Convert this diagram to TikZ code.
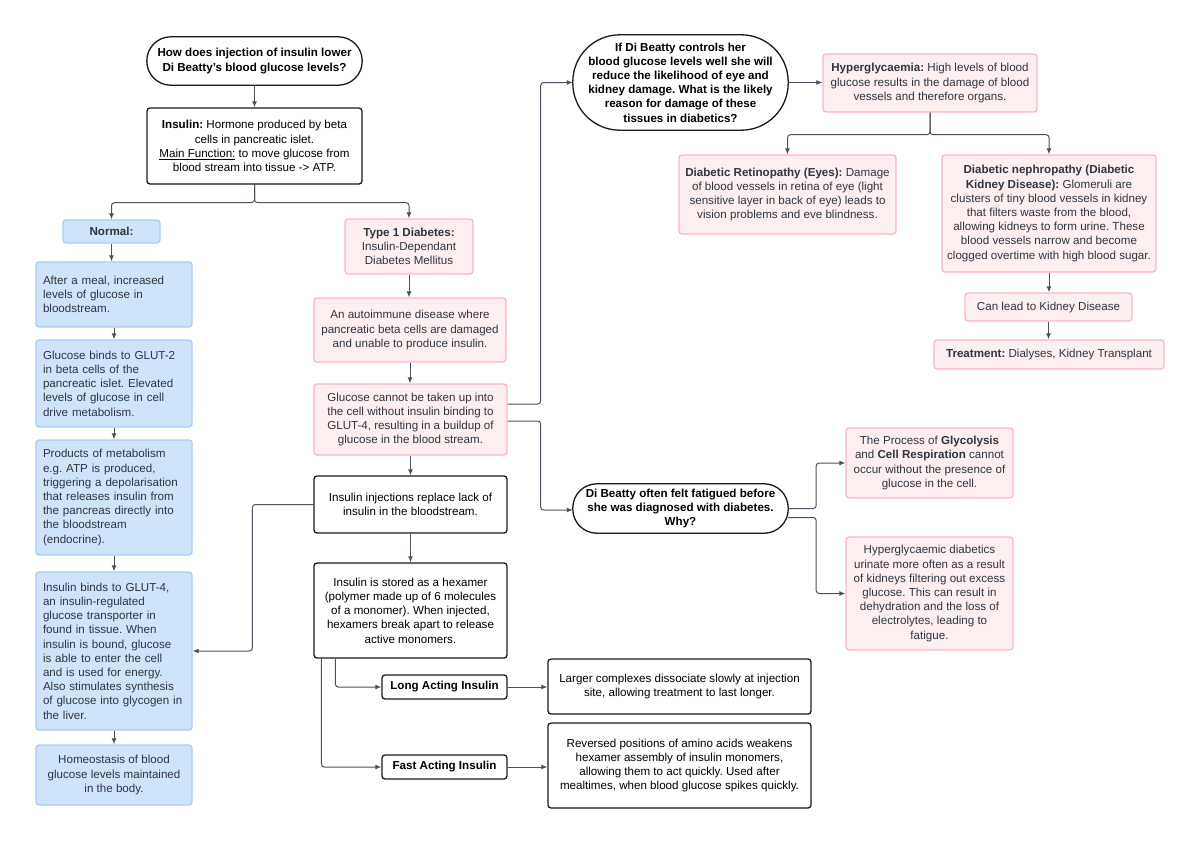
\documentclass[tikz,border=0pt]{standalone}
\usepackage{fontspec}
\setmainfont{Liberation Sans}
\usetikzlibrary{arrows.meta}
\definecolor{pinkf}{HTML}{FDEEF0}
\definecolor{pinkb}{HTML}{F7B5CC}
\definecolor{bluef}{HTML}{CFE3FB}
\definecolor{blueb}{HTML}{A8CCF5}
\definecolor{linec}{HTML}{4A5260}
\definecolor{txt}{HTML}{2F3541}
\frenchspacing
\begin{document}
\begin{tikzpicture}[x=1pt,y=-1pt,
  base/.style={inner sep=2pt, align=center, font=\fontsize{11.6}{14.2}\selectfont, line width=1.3pt, rounded corners=3pt},
  blackbox/.style={base, draw=black!90, fill=white, text=black},
  pinkbox/.style={base, draw=pinkb, fill=pinkf, text=txt},
  bluebox/.style={base, draw=blueb, fill=bluef, text=txt},
  blueleft/.style={bluebox, align=left, text width=142pt, inner xsep=7pt},
  qnode/.style={inner sep=0pt, align=center, font=\fontsize{11.6}{14.2}\selectfont\bfseries, text=black},
  stad/.style={draw=black!90, line width=1.3pt, fill=white},
  arr/.style={draw=linec, line width=1pt, rounded corners=3pt, -{Latex[length=6pt,width=5pt]}}
]
\useasboundingbox (0,0) rectangle (1200,844);

% question placeholders (outline drawn below)
\node[qnode, minimum width=215pt, minimum height=48pt] (q1) at (254.5,61) {};
\node[qnode, minimum width=215pt, minimum height=95pt] (q2) at (680.5,82.5) {};
\node[qnode, minimum width=215pt, minimum height=49pt] (q3) at (680.5,508.5) {};
\draw[stad, rounded corners=24pt] (q1.south west) rectangle (q1.north east);
\draw[stad, rounded corners=47pt] (q2.south west) rectangle (q2.north east);
\draw[stad, rounded corners=24pt] (q3.south west) rectangle (q3.north east);
\node[qnode] (q1t) at (q1.center) {How does injection of insulin lower\\Di Beatty's blood glucose levels?};
\node[qnode] (q2t) at (q2.center) {If Di Beatty controls her\\blood glucose levels well she will\\reduce the likelihood of eye and\\kidney damage. What is the likely\\reason for damage of these\\tissues in diabetics?};
\node[qnode] (q3t) at (q3.center) {Di Beatty often felt fatigued before\\she was diagnosed with diabetes.\\Why?};

\node[blackbox, minimum width=215pt, minimum height=76pt] (ins) at (254.5,146) {\textbf{Insulin:} Hormone produced by beta\\cells in pancreatic islet.\\\underline{Main Function:} to move glucose from\\blood stream into tissue -> ATP.};

% Left column (normal)
\node[bluebox, minimum width=97pt, minimum height=23pt] (nor) at (111.5,231.5) {\textbf{Normal:}};
\node[blueleft, minimum height=65pt] (b1) at (114,294.5) {After a meal, increased\\levels of glucose in\\bloodstream.};
\node[blueleft, minimum height=87pt] (b2) at (114,383.5) {Glucose binds to GLUT-2\\in beta cells of the\\pancreatic islet. Elevated\\levels of glucose in cell\\drive metabolism.};
\node[blueleft, minimum height=115pt] (b3) at (114,497.5) {Products of metabolism\\e.g. ATP is produced,\\triggering a depolarisation\\that releases insulin from\\the pancreas directly into\\the bloodstream\\(endocrine).};
\node[blueleft, minimum height=158pt] (b4) at (114,651) {Insulin binds to GLUT-4,\\an insulin-regulated\\glucose transporter in\\found in tissue. When\\insulin is bound, glucose\\is able to enter the cell\\and is used for energy.\\Also stimulates synthesis\\of glucose into glycogen in\\the liver.};
\node[bluebox, minimum width=156pt, minimum height=60pt] (b5) at (114,775) {Homeostasis of blood\\glucose levels maintained\\in the body.};

% Middle column
\node[pinkbox, minimum width=128pt, minimum height=55pt] (t1) at (409,246.5) {\textbf{Type 1 Diabetes:}\\Insulin-Dependant\\Diabetes Mellitus};
\node[pinkbox, minimum width=192pt, minimum height=64pt] (auto) at (410,330) {An autoimmune disease where\\pancreatic beta cells are damaged\\and unable to produce insulin.};
\node[pinkbox, minimum width=193pt, minimum height=71pt] (gc) at (410.5,419.5) {Glucose cannot be taken up into\\the cell without insulin binding to\\GLUT-4, resulting in a buildup of\\glucose in the blood stream.};
\node[blackbox, minimum width=193pt, minimum height=57pt] (inj) at (410.5,504.5) {Insulin injections replace lack of\\insulin in the bloodstream.};
\node[blackbox, minimum width=193pt, minimum height=95pt] (hex) at (410.5,610.5) {Insulin is stored as a hexamer\\(polymer made up of 6 molecules\\of a monomer). When injected,\\hexamers break apart to release\\active monomers.};
\node[blackbox, minimum width=125pt, minimum height=24pt] (long) at (444.5,687) {\textbf{Long Acting Insulin}};
\node[blackbox, minimum width=125pt, minimum height=24pt] (fast) at (444.5,767) {\textbf{Fast Acting Insulin}};
\node[blackbox, minimum width=263pt, minimum height=55pt] (larg) at (679.5,686.5) {Larger complexes dissociate slowly at injection\\site, allowing treatment to last longer.};
\node[blackbox, minimum width=263pt, minimum height=85pt] (rev) at (679.5,765.5) {Reversed positions of amino acids weakens\\hexamer assembly of insulin monomers,\\allowing them to act quickly. Used after\\mealtimes, when blood glucose spikes quickly.};

% Right upper
\node[pinkbox, minimum width=214pt, minimum height=58pt] (hyp) at (930,83) {\textbf{Hyperglycaemia:} High levels of blood\\glucose results in the damage of blood\\vessels and therefore organs.};
\node[pinkbox, minimum width=217pt, minimum height=79pt] (ret) at (787.5,194.5) {\textbf{Diabetic Retinopathy (Eyes):} Damage\\of blood vessels in retina of eye (light\\sensitive layer in back of eye) leads to\\vision problems and eve blindness.};
\node[pinkbox, minimum width=214pt, minimum height=117pt] (nep) at (1049,213.5) {\textbf{Diabetic nephropathy (Diabetic}\\\textbf{Kidney Disease):} Glomeruli are\\clusters of tiny blood vessels in kidney\\that filters waste from the blood,\\allowing kidneys to form urine. These\\blood vessels narrow and become\\clogged overtime with high blood sugar.};
\node[pinkbox, minimum width=167pt, minimum height=28pt] (can) at (1048.5,307) {Can lead to Kidney Disease};
\node[pinkbox, minimum width=230pt, minimum height=29pt] (trt) at (1049,354.5) {\textbf{Treatment:} Dialyses, Kidney Transplant};

% Right lower
\node[pinkbox, minimum width=167pt, minimum height=70pt] (gly) at (929.5,463) {The Process of \textbf{Glycolysis}\\and \textbf{Cell Respiration} cannot\\occur without the presence of\\glucose in the cell.};
\node[pinkbox, minimum width=167pt, minimum height=113pt] (hd) at (929.5,593.5) {Hyperglycaemic diabetics\\urinate more often as a result\\of kidneys filtering out excess\\glucose. This can result in\\dehydration and the loss of\\electrolytes, leading to\\fatigue.};

% connectors
\draw[arr] (q1.south) -- (ins.north);
\draw[arr] (ins.south) -- ++(0,18) -| (nor.north);
\draw[arr] (ins.south) -- ++(0,18) -| (t1.north);
\draw[arr] (nor.south) -- (nor.south |- b1.north);
\draw[arr] (b1.south) -- (b2.north);
\draw[arr] (b2.south) -- (b3.north);
\draw[arr] (b3.south) -- (b4.north);
\draw[arr] (b4.south) -- (b5.north);
\draw[arr] (t1.south) -- (t1.south |- auto.north);
\draw[arr] (auto.south) -- (auto.south |- gc.north);
\draw[arr] (gc.south) -- (inj.north);
\draw[arr] (inj.south) -- (hex.north);
\draw[arr] ([yshift=15.5pt]gc.east) -- ++(33,0) |- (q2.west);
\draw[arr] ([yshift=-1.5pt]gc.east) -- ++(33,0) |- ([yshift=-1.5pt]q3.west);
\draw[arr] (inj.west) -- ++(-61,0) |- (b4.east);
\draw[arr] ([xshift=22pt]hex.south west) |- (long.west);
\draw[arr] ([xshift=8pt]hex.south west) |- (fast.west);
\draw[arr] (long.east) -- (long.east -| larg.west);
\draw[arr] (fast.east) -- (fast.east -| rev.west);
\draw[arr] (q2.east) -- (q2.east -| hyp.west);
\draw[arr] (hyp.south) -- ++(0,22) -| (ret.north);
\draw[arr] (hyp.south) -- ++(0,22) -| (nep.north);
\draw[arr] (nep.south) -- (nep.south |- can.north);
\draw[arr] (can.south) -- (can.south |- trt.north);
\draw[arr] (q3.east) -- ++(28,0) |- (gly.west);
\draw[arr] ([yshift=-9pt]q3.east) -- ++(28,0) |- (hd.west);
\end{tikzpicture}
\end{document}
